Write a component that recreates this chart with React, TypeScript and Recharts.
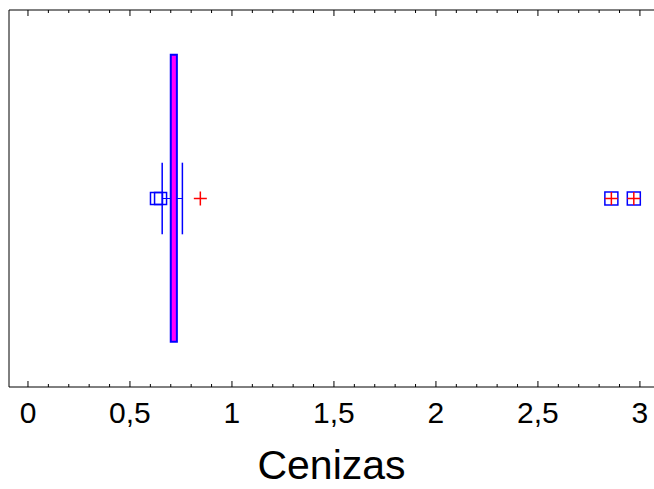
import {ScatterChart, Scatter, XAxis, YAxis, ReferenceArea, ReferenceLine} from "recharts";

// box-and-whisker summary for Cenizas
const quartiles = [0.70, 0.73];
const whiskers = [0.658, 0.757];
const mean = [0.845];
const nearOutliers = [0.63, 0.65];
const farOutliers = [2.86, 2.97];

const majorTicks = [0, 0.5, 1, 1.5, 2, 2.5, 3];
const minorTicks = Array.from({length: 31}, (_, i) => i / 10);

const ROW = 0.5;
const BLUE = "#0000ff";
const FONT = "'Liberation Sans', Arial, sans-serif";
const toPoints = (vals: number[]) => vals.map(v => ({x: v, y: ROW}));

const isMajor = (v: number) => majorTicks.some(m => Math.abs(m - v) < 1e-6);
const fmt = (v: number) => String(v).replace(".", ",");

const BottomTick = (props: any) => {
    const {x, y, payload} = props;
    const major = isMajor(payload.value);
    return (
        <g>
            <line x1={x} x2={x} y1={y} y2={y - (major ? 6 : 3)} stroke="#000" />
            {major && (
                <text x={x} y={y + 36} textAnchor="middle" fontSize={30} fill="#000" fontFamily={FONT}>
                    {fmt(payload.value)}
                </text>
            )}
        </g>
    );
};

const TopTick = (props: any) => {
    const {x, y, payload} = props;
    const major = isMajor(payload.value);
    return <line x1={x} x2={x} y1={y} y2={y + (major ? 6 : 3)} stroke="#000" />;
};

const Square = (size: number, cross: boolean) => (props: any) => {
    const {cx, cy} = props;
    const h = size / 2;
    return (
        <g>
            <rect x={cx - h} y={cy - h} width={size} height={size} fill="none" stroke={BLUE} strokeWidth={1.5} />
            {cross && (
                <>
                    <line x1={cx - h} x2={cx + h} y1={cy} y2={cy} stroke="#ff0000" strokeWidth={1.5} />
                    <line x1={cx} x2={cx} y1={cy - h} y2={cy + h} stroke="#ff0000" strokeWidth={1.5} />
                </>
            )}
        </g>
    );
};

const Plus = (props: any) => {
    const {cx, cy} = props;
    return (
        <g>
            <line x1={cx - 6.5} x2={cx + 6.5} y1={cy} y2={cy} stroke="#ff0000" strokeWidth={1.5} />
            <line x1={cx} x2={cx} y1={cy - 7} y2={cy + 7} stroke="#ff0000" strokeWidth={1.5} />
        </g>
    );
};

const domain = [-0.093, 3.069];

export default function App() {
    return (
        <div style={{position: "absolute", left: 0, top: 0, width: 654, height: 489, background: "#fff"}}>
            <ScatterChart width={654} height={489} margin={{top: 9, right: 0, left: 8, bottom: 0}}>
                <XAxis xAxisId="top" orientation="top" type="number" dataKey="x" domain={domain}
                       allowDataOverflow ticks={minorTicks} interval={0} height={1}
                       tickSize={0} tickMargin={0} tickLine={false} tick={<TopTick />}
                       axisLine={{stroke: "#000"}} />
                <XAxis xAxisId="bottom" orientation="bottom" type="number" dataKey="x" domain={domain}
                       allowDataOverflow ticks={minorTicks} interval={0} height={102}
                       tickSize={0} tickMargin={0} tickLine={false} tick={<BottomTick />}
                       axisLine={{stroke: "#000"}}
                       label={{value: "Cenizas", position: "insideBottom", offset: 10, fontSize: 41, fill: "#000",
                           fontFamily: FONT}} />
                <YAxis type="number" dataKey="y" domain={[0, 1]} width={1} tick={false} tickLine={false}
                       axisLine={{stroke: "#000"}} />

                <ReferenceLine xAxisId="bottom" segment={[{x: whiskers[0], y: ROW}, {x: quartiles[0], y: ROW}]} stroke={BLUE} />
                <ReferenceLine xAxisId="bottom" segment={[{x: quartiles[1], y: ROW}, {x: whiskers[1], y: ROW}]} stroke={BLUE} />
                <ReferenceLine xAxisId="bottom" segment={[{x: whiskers[0], y: 0.405}, {x: whiskers[0], y: 0.595}]} stroke={BLUE} strokeWidth={1.5} />
                <ReferenceLine xAxisId="bottom" segment={[{x: whiskers[1], y: 0.405}, {x: whiskers[1], y: 0.595}]} stroke={BLUE} strokeWidth={1.5} />
                <ReferenceArea xAxisId="bottom" x1={quartiles[0]} x2={quartiles[1]} y1={0.12} y2={0.881}
                               fill="#ff00ff" fillOpacity={1} stroke={BLUE} strokeWidth={2} />

                <Scatter xAxisId="bottom" data={toPoints(nearOutliers)} shape={Square(12, false)} isAnimationActive={false} />
                <Scatter xAxisId="bottom" data={toPoints(farOutliers)} shape={Square(13, true)} isAnimationActive={false} />
                <Scatter xAxisId="bottom" data={toPoints(mean)} shape={Plus} isAnimationActive={false} />
            </ScatterChart>
        </div>
    );
}
